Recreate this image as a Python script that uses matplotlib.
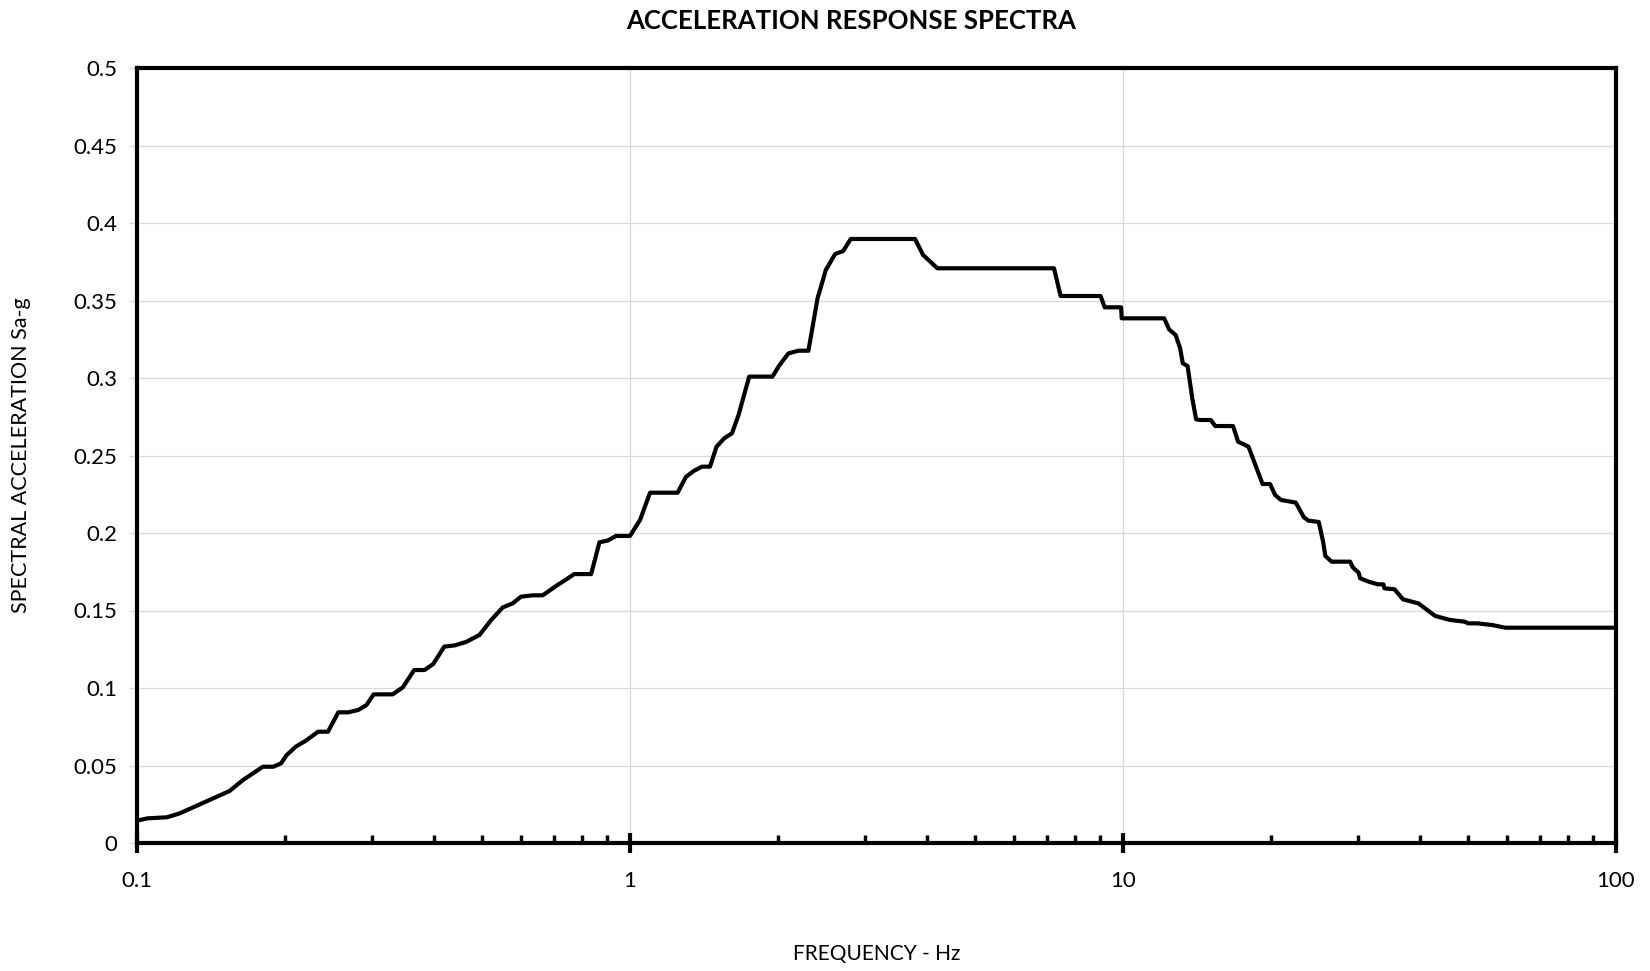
import numpy as np
import matplotlib
matplotlib.use('Agg')
import matplotlib.pyplot as plt
from matplotlib.ticker import LogLocator, FixedLocator, NullFormatter, FuncFormatter

plt.rcParams['font.family'] = ['Lato', 'DejaVu Sans']

# Spectrum readings (frequency in Hz, spectral acceleration in g)
freq = [0.1, 0.105, 0.115, 0.122, 0.154, 0.164, 0.172, 0.180, 0.189, 0.196,
        0.201, 0.210, 0.220, 0.233, 0.244, 0.256, 0.268, 0.281, 0.292, 0.302,
        0.330, 0.346, 0.365, 0.383, 0.399, 0.420, 0.441, 0.465, 0.495, 0.523,
        0.552, 0.578, 0.601, 0.635, 0.665, 0.708, 0.771, 0.834, 0.867, 0.901,
        0.937, 1.0,
        1.048, 1.098, 1.249, 1.299, 1.350, 1.399, 1.453, 1.498, 1.553, 1.610,
        1.660, 1.745, 1.946, 2.007, 2.096, 2.197, 2.301, 2.401, 2.496, 2.607,
        2.706, 2.804, 3.786, 3.930, 4.202, 7.244, 7.473, 9.006,
        9.18, 9.91, 9.94, 12.12, 12.40, 12.79, 13.06, 13.22, 13.52, 13.82,
        14.07, 14.36, 15.07, 15.39, 16.72, 17.12, 17.97, 19.19, 19.87, 20.35,
        20.92, 22.41, 23.28, 23.77, 24.95, 25.46, 25.73, 26.50, 28.89, 29.24,
        30.06, 30.27, 31.49, 32.87, 33.74, 33.91, 35.54, 36.98, 39.74, 42.97,
        46.04, 49.31, 50.17, 52.40, 56.15, 59.63, 100]

sa = [0.0144, 0.0159, 0.0166, 0.0191, 0.0335, 0.0406, 0.0450, 0.0492, 0.0492, 0.0514,
      0.0566, 0.0622, 0.0660, 0.0718, 0.0718, 0.0843, 0.0843, 0.0858, 0.0890, 0.0959,
      0.0959, 0.1004, 0.1116, 0.1116, 0.1155, 0.1267, 0.1275, 0.1297, 0.1342, 0.1439,
      0.1520, 0.1546, 0.1589, 0.1598, 0.1598, 0.1658, 0.1735, 0.1735, 0.1940, 0.1951,
      0.1981, 0.1981,
      0.2084, 0.2260, 0.2260, 0.2363, 0.2402, 0.2428, 0.2428, 0.2557, 0.2611, 0.2643,
      0.2761, 0.3009, 0.3009, 0.3080, 0.3159, 0.3176, 0.3176, 0.3514, 0.3697, 0.3800,
      0.3819, 0.3897, 0.3897, 0.3794, 0.3708, 0.3708, 0.3529, 0.3529,
      0.3456, 0.3456, 0.3385, 0.3385, 0.3314, 0.3277, 0.3191, 0.3095, 0.3077, 0.2869,
      0.2733, 0.2729, 0.2729, 0.2690, 0.2690, 0.2589, 0.2557, 0.2316, 0.2316, 0.2245,
      0.2213, 0.2196, 0.2101, 0.2080, 0.2071, 0.1944, 0.1852, 0.1815, 0.1815, 0.1779,
      0.1744, 0.1708, 0.1686, 0.1669, 0.1669, 0.1643, 0.1637, 0.1572, 0.1546, 0.1465,
      0.1439, 0.1428, 0.1417, 0.1417, 0.1406, 0.1389, 0.1389]

y_ticks = np.arange(0, 0.501, 0.05)
x_major = [0.1, 1, 10, 100]

fig = plt.figure(figsize=(16.5, 9.71), dpi=100)
ax = fig.add_axes([137 / 1650, 1 - 843 / 971, (1616 - 137) / 1650, (843 - 68) / 971])

ax.plot(freq, sa, color='black', lw=3.0, solid_joinstyle='round', zorder=3)

ax.set_xscale('log')
ax.set_xlim(0.1, 100)
ax.set_ylim(0, 0.5)

ax.xaxis.set_major_locator(FixedLocator(x_major))
ax.xaxis.set_major_formatter(FuncFormatter(lambda v, p: f'{v:g}'))
ax.xaxis.set_minor_locator(LogLocator(base=10, subs=np.arange(2, 10)))
ax.xaxis.set_minor_formatter(NullFormatter())
ax.set_yticks(y_ticks)
ax.set_yticklabels([f'{v:g}' for v in np.round(y_ticks, 2)])

ax.grid(True, which='major', color='#d9d9d9', lw=0.9, zorder=0)

for s in ax.spines.values():
    s.set_linewidth(3.0)
    s.set_color('black')

ax.tick_params(axis='x', which='major', direction='inout', length=14, width=3,
               color='black', labelsize=16, pad=13)
ax.tick_params(axis='x', which='minor', direction='in', length=6, width=2.5,
               color='black')
ax.tick_params(axis='y', which='major', direction='out', length=6, width=1,
               color='#d9d9d9', labelsize=16, pad=8)

# title sits a bit left of the plot centre in the original
ax.set_title('ACCELERATION RESPONSE SPECTRA', fontsize=18.5, fontweight='bold',
             pad=28, x=0.483)
ax.set_xlabel('FREQUENCY - Hz', fontsize=15, labelpad=38)
ax.set_ylabel('SPECTRAL ACCELERATION Sa-g', fontsize=15.5, labelpad=31)

fig.savefig('out.png', dpi=100)
